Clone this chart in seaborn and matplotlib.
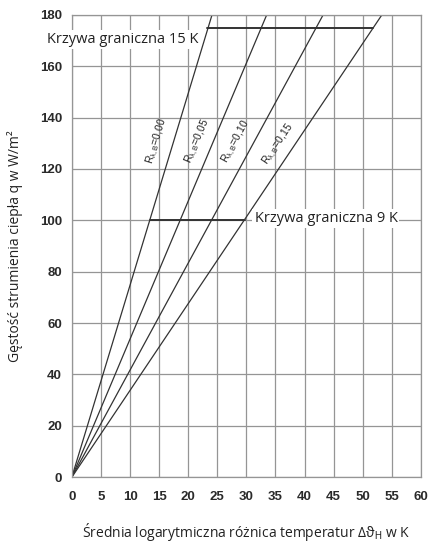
import pandas as pd
import seaborn as sns
import matplotlib.pyplot as plt

# Lines R_lambda,B: each runs from the origin to the top of the chart (q = 180)
r_labels = ["0,00", "0,05", "0,10", "0,15"]
dt_at_top = [24.1, 33.5, 43.2, 53.3]
q_top = 180

# label positions (centre of each rotated label)
label_x = [14.6, 21.6, 28.3, 35.5]
label_y = [130.6, 130.6, 130.6, 129.4]
label_rot = [73, 67, 61.5, 56]

# boundary curves (horizontal segments)
limit_15_x = [23.3, 51.8]
limit_15_q = 175
limit_9_x = [13.4, 29.7]
limit_9_q = 100

# build a long table for seaborn
rows = []
for lab, xe in zip(r_labels, dt_at_top):
    rows.append({"R": lab, "dT": 0.0, "q": 0.0})
    rows.append({"R": lab, "dT": xe, "q": q_top})
df = pd.DataFrame(rows)

sns.set_style("white")
plt.rcParams["font.family"] = ["DejaVu Sans"]
plt.rcParams["mathtext.fontset"] = "custom"
plt.rcParams["mathtext.rm"] = "Liberation Sans"
plt.rcParams["mathtext.it"] = "Liberation Sans:italic"

fig = plt.figure(figsize=(4.3, 5.46), dpi=100)
ax = fig.add_axes([0.167, 0.126, 0.812, 0.847])

sns.lineplot(data=df, x="dT", y="q", hue="R", units="R", estimator=None,
             palette=["#333333"] * 4, linewidth=0.9, legend=False, ax=ax)

sns.lineplot(x=limit_15_x, y=[limit_15_q] * 2, color="#333333", linewidth=1.4, ax=ax)
sns.lineplot(x=limit_9_x, y=[limit_9_q] * 2, color="#333333", linewidth=1.4, ax=ax)

ax.set_xlim(0, 60)
ax.set_ylim(0, 180)
ax.set_xticks(range(0, 61, 5))
ax.set_yticks(range(0, 181, 20))
ax.set_xticks([x + 2.5 for x in range(0, 60, 5)], minor=True)
ax.grid(True, which="major", color="#959595", linewidth=0.9)
ax.set_axisbelow(True)
for s in ax.spines.values():
    s.set_color("#959595")
    s.set_linewidth(0.9)

ax.tick_params(axis="both", which="major", length=4, color="#959595",
               labelsize=9.5, labelcolor="#2a2a2a")
ax.tick_params(axis="x", which="major", pad=6)
ax.tick_params(axis="y", which="major", pad=3)
ax.tick_params(axis="x", which="minor", length=3, color="#959595", direction="in")
for t in ax.get_xticklabels() + ax.get_yticklabels():
    t.set_fontweight("bold")
    t.set_family(["Liberation Sans", "DejaVu Sans"])

for lab, lx, ly, rot in zip(r_labels, label_x, label_y, label_rot):
    ax.text(lx, ly, r"$\mathrm{R}_{\mathrm{\lambda,B}}$=" + lab, rotation=rot,
            ha="center", va="center", fontsize=7.5, color="#222222",
            family=["Liberation Sans", "DejaVu Sans"], rotation_mode="anchor")

box = dict(facecolor="white", edgecolor="none", pad=1.5)
ax.text(8.8, 170.4, "Krzywa graniczna 15 K", ha="center", va="center",
        fontsize=10.5, color="#222222", family=["Open Sans", "DejaVu Sans"], bbox=box)
ax.text(31.4, 100.6, "Krzywa graniczna 9 K", ha="left", va="center",
        fontsize=10.5, color="#222222", family=["Open Sans", "DejaVu Sans"], bbox=box)

ax.set_xlabel(r"Średnia logarytmiczna różnica temperatur Δϑ$_{\mathrm{H}}$ w K",
              fontsize=10, color="#222222", family=["Open Sans", "DejaVu Sans"], labelpad=13)
ax.set_ylabel("Gęstość strumienia ciepła q w W/m²", fontsize=10, color="#222222",
              family=["Open Sans", "DejaVu Sans"], labelpad=12)

fig.savefig("out.png", dpi=100)
